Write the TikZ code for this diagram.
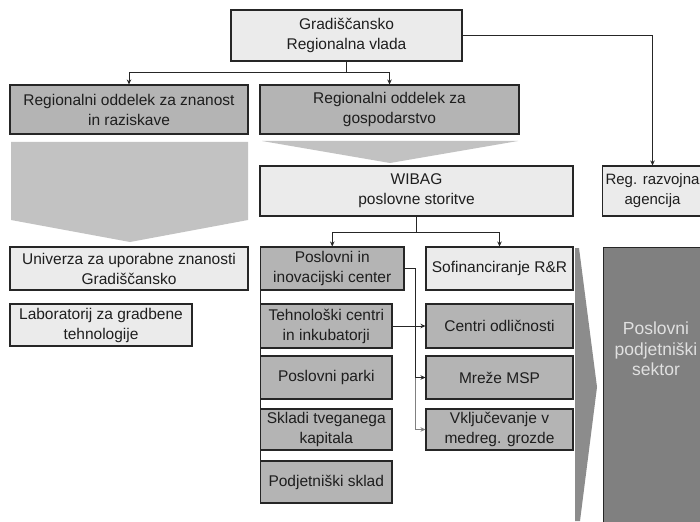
\documentclass[tikz,border=0pt]{standalone}
\usepackage{fontspec}
\setmainfont{Liberation Sans}
\usetikzlibrary{arrows.meta}

\definecolor{boxlight}{HTML}{EBEBEB}
\definecolor{boxdark}{HTML}{B4B4B4}
\definecolor{flowlight}{HTML}{C2C2C2}
\definecolor{flowdark}{HTML}{8C8C8C}
\definecolor{sectorfill}{HTML}{808080}
\definecolor{edge}{HTML}{262626}
\definecolor{ink}{HTML}{1E1E1E}

\tikzset{
  orgbox/.style={draw=edge, line width=1.1pt, inner sep=0pt, align=center,
    font=\fontsize{15.5}{20}\selectfont, text=ink},
  lightbox/.style={orgbox, fill=boxlight},
  darkbox/.style={orgbox, fill=boxdark},
  conn/.style={draw=edge, line width=0.9pt},
  tip/.style={conn, -{Stealth[length=5pt,width=4.5pt]}},
}

\begin{document}
\begin{tikzpicture}[x=1pt,y=-1pt]
\path[use as bounding box, clip] (0,0) rectangle (700,521);
\fill[white] (0,0) rectangle (700,521);

% broad flow arrows
\fill[flowlight] (11,142) -- (248,142) -- (248,220) -- (130,242) -- (11,220) -- cycle;
\fill[flowlight] (262,141) -- (518,141) -- (390,163) -- cycle;
\fill[flowdark] (575,248) -- (579,248) -- (597,387) -- (580,521) -- (575,521) -- cycle;

% government level
\node[lightbox, minimum width=231, minimum height=51] (gov) at (346.5,35.5) {Gradiščansko\\Regionalna vlada};
\node[darkbox, minimum width=238, minimum height=49] (sci) at (129,109.5) {Regionalni oddelek za znanost\\in raziskave};
\node[darkbox, minimum width=259, minimum height=49] (eco) at (389.5,109.5) {Regionalni oddelek za\\gospodarstvo};
\node[lightbox, minimum width=100, minimum height=50, font=\fontsize{15}{20}\selectfont] (rra) at (652.5,191) {Reg. razvojna\\agencija};

% research side
\node[lightbox, minimum width=238, minimum height=43] (uni) at (129,268.5) {Univerza za uporabne znanosti\\Gradiščansko};
\node[lightbox, minimum width=182, minimum height=42] (lab) at (101,325) {Laboratorij za gradbene\\tehnologije};

% business services
\node[lightbox, minimum width=313, minimum height=50] (wibag) at (416.5,191) {WIBAG\\poslovne storitve};
\node[darkbox, minimum width=143.5, minimum height=43] (pic) at (332.25,268.5) {Poslovni in\\inovacijski center};
\node[darkbox, minimum width=131.5, minimum height=44] (teh) at (326.25,326) {Tehnološki centri\\in inkubatorji};
\node[darkbox, minimum width=131.5, minimum height=43] (park) at (326.25,377.5) {Poslovni parki};
\node[darkbox, minimum width=131.5, minimum height=41] (skl) at (326.25,429.5) {Skladi tveganega\\kapitala};
\node[darkbox, minimum width=131.5, minimum height=42] (pod) at (326.25,482) {Podjetniški sklad};

\node[lightbox, minimum width=147, minimum height=43] (sof) at (499.5,268.5) {Sofinanciranje R\&R};
\node[darkbox, minimum width=147, minimum height=44] (cen) at (499.5,326) {Centri odličnosti};
\node[darkbox, minimum width=147, minimum height=43] (mre) at (499.5,377.5) {Mreže MSP};
\node[darkbox, minimum width=147, minimum height=41] (vkl) at (499.5,429.5) {Vključevanje v\\medreg. grozde};

% business sector
\node[draw=edge, line width=1.1pt, fill=sectorfill, minimum width=120, minimum height=290,
      anchor=north west, inner sep=0pt] (sector) at (603,247) {};
\node[font=\fontsize{17.5}{20.5}\selectfont, text=white!88!black, align=center] (sectortext)
      at (656,349) {Poslovni\\podjetniški\\sektor};

% connectors
\draw[conn] (gov.south) -- ++(0,11) coordinate (govsplit);
\draw[tip] (govsplit) -| (sci.north);
\draw[tip] (govsplit) -| (eco.north);
\draw[tip] (gov.east) -| (rra.north);

\draw[conn] (wibag.south) -- ++(0,16) coordinate (wsplit);
\draw[tip] (wsplit) -| (pic.north);
\draw[tip] (wsplit) -| (sof.north);

\draw[conn] (pic.south west) -- (pod.north west);
\draw[conn] (pic.east) -- ++(11,0) coordinate (picbend);
\draw[tip] (picbend) |- (mre.west);
\draw[tip, draw=gray] (picbend |- mre.west) |- (vkl.west);
\draw[tip] (teh.east) -- (cen.west);
\end{tikzpicture}
\end{document}
